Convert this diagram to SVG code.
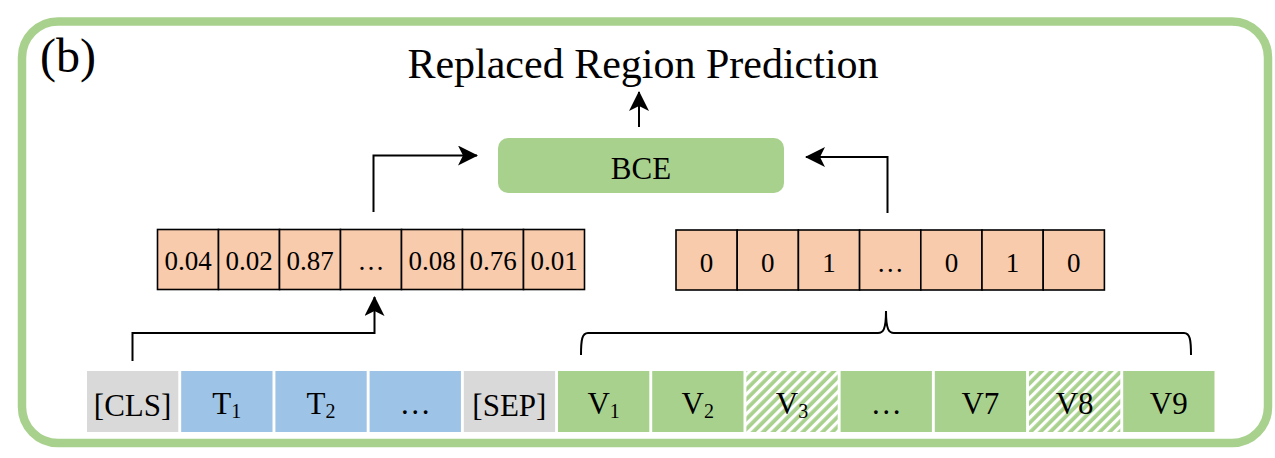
<svg xmlns="http://www.w3.org/2000/svg" width="1275" height="458" viewBox="0 0 1275 458">
<style>
text{font-family:"Liberation Serif","Times New Roman",serif;fill:#000}
.prob{fill:#F8CBAD;stroke:#000;stroke-width:1.6}
.num{font-size:27px;text-anchor:middle}
.tok{font-size:31px;text-anchor:middle}
.sub{font-size:20px}
.gray{fill:#D9D9D9}
.blue{fill:#9DC3E6}
.green{fill:#A9D18E}
.hatch{fill:url(#hatch)}
.conn{fill:none;stroke:#000;stroke-width:2}
</style>
<defs>
<marker id="arr" viewBox="0 0 20 20" refX="19" refY="10" markerWidth="20" markerHeight="20" markerUnits="userSpaceOnUse" orient="auto">
<path d="M0,0 L20,10 L0,20 L5,10 Z" fill="#000"/>
</marker>
<pattern id="hatch" patternUnits="userSpaceOnUse" width="7" height="7" patternTransform="rotate(45)">
<rect width="7" height="7" fill="#A9D18E"/>
<rect width="3.2" height="7" fill="#fff"/>
</pattern>
</defs>
<rect x="0" y="0" width="1275" height="458" fill="#fff"/>
<rect id="frame" x="22" y="21.5" width="1246" height="421.5" rx="36" fill="none" stroke="#A9D18E" stroke-width="8.5"/>
<text x="40" y="72" font-size="48">(b)</text>
<g id="title"><text x="643" y="78" font-size="42" text-anchor="middle">Replaced Region Prediction</text></g>
<g id="bce">
<rect x="498" y="138" width="286" height="55" rx="10" fill="#A9D18E"/>
<text x="641" y="179" font-size="31" text-anchor="middle">BCE</text>
</g>
<g id="pred">
<rect class="prob" x="157.5" y="229.5" width="61" height="60"/>
<rect class="prob" x="218.5" y="229.5" width="61" height="60"/>
<rect class="prob" x="279.5" y="229.5" width="61" height="60"/>
<rect class="prob" x="340.5" y="229.5" width="61" height="60"/>
<rect class="prob" x="401.5" y="229.5" width="61" height="60"/>
<rect class="prob" x="462.5" y="229.5" width="61" height="60"/>
<rect class="prob" x="523.5" y="229.5" width="61" height="60"/>
<text class="num" x="188" y="270">0.04</text>
<text class="num" x="249" y="270">0.02</text>
<text class="num" x="310" y="270">0.87</text>
<text class="num" x="371" y="270">…</text>
<text class="num" x="432" y="270">0.08</text>
<text class="num" x="493" y="270">0.76</text>
<text class="num" x="554" y="270">0.01</text>
</g>
<g id="label">
<rect class="prob" x="676" y="230" width="61.2" height="60"/>
<rect class="prob" x="737.2" y="230" width="61.2" height="60"/>
<rect class="prob" x="798.4" y="230" width="61.2" height="60"/>
<rect class="prob" x="859.6" y="230" width="61.2" height="60"/>
<rect class="prob" x="920.8" y="230" width="61.2" height="60"/>
<rect class="prob" x="982" y="230" width="61.2" height="60"/>
<rect class="prob" x="1043.2" y="230" width="61.2" height="60"/>
<text class="num" x="706.6" y="272">0</text>
<text class="num" x="767.8" y="272">0</text>
<text class="num" x="829" y="272">1</text>
<text class="num" x="890.2" y="272">…</text>
<text class="num" x="951.4" y="272">0</text>
<text class="num" x="1012.6" y="272">1</text>
<text class="num" x="1073.8" y="272">0</text>
</g>
<g id="tokens">
<rect class="gray" x="87" y="371" width="91.3" height="61"/>
<rect class="blue" x="181.2" y="371" width="91.3" height="61"/>
<rect class="blue" x="275.4" y="371" width="91.3" height="61"/>
<rect class="blue" x="369.6" y="371" width="91.3" height="61"/>
<rect class="gray" x="463.8" y="371" width="91.3" height="61"/>
<rect class="green" x="558" y="371" width="91.3" height="61"/>
<rect class="green" x="652.2" y="371" width="91.3" height="61"/>
<rect class="hatch" x="746.4" y="371" width="91.3" height="61"/>
<rect class="green" x="840.6" y="371" width="91.3" height="61"/>
<rect class="green" x="934.8" y="371" width="91.3" height="61"/>
<rect class="hatch" x="1029" y="371" width="91.3" height="61"/>
<rect class="green" x="1123.2" y="371" width="91.3" height="61"/>
<text class="tok" x="132.6" y="416" font-size="32">[CLS]</text>
<text class="tok" x="226.8" y="414">T<tspan class="sub" dy="4">1</tspan></text>
<text class="tok" x="321" y="414">T<tspan class="sub" dy="4">2</tspan></text>
<text class="tok" x="415.2" y="414">…</text>
<text class="tok" x="509.4" y="416" font-size="32">[SEP]</text>
<text class="tok" x="603.6" y="414">V<tspan class="sub" dy="4">1</tspan></text>
<text class="tok" x="697.8" y="414">V<tspan class="sub" dy="4">2</tspan></text>
<text class="tok" x="792" y="414">V<tspan class="sub" dy="4">3</tspan></text>
<text class="tok" x="886.2" y="414">…</text>
<text class="tok" x="980.4" y="414">V7</text>
<text class="tok" x="1074.6" y="414">V8</text>
<text class="tok" x="1168.8" y="414">V9</text>
</g>
<g id="connectors">
<path class="conn" d="M639,127 V92" marker-end="url(#arr)"/>
<path class="conn" d="M373.5,212 V155.5 H477" marker-end="url(#arr)"/>
<path class="conn" d="M887.5,213 V157 H806" marker-end="url(#arr)"/>
<path class="conn" d="M132.5,361 V333 H374.5 V297" marker-end="url(#arr)"/>
<path class="conn" stroke-width="1.6" d="M581,355 C581,340 582,333 588,333 H878 C883,333 886,330 886,311 C886,330 889,333 894,333 H1184 C1190,333 1191,340 1191,355"/>
</g>
</svg>
